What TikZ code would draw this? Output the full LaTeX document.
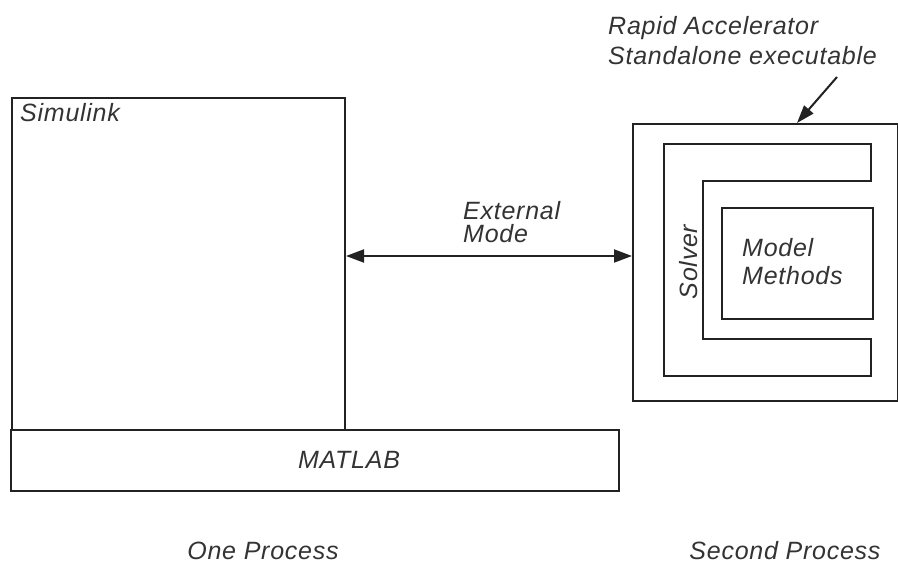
\documentclass[tikz,border=0pt]{standalone}
\usepackage{fontspec}
\setmainfont{Liberation Sans}[LetterSpace=3]
\usetikzlibrary{arrows.meta}
\definecolor{ink}{HTML}{222222}
\definecolor{txt}{HTML}{333333}
\tikzset{
  box/.style={draw=ink, line width=2pt},
  lbl/.style={inner sep=0pt, text=txt, font=\fontsize{25}{23}\selectfont\itshape, align=left},
  conn/.style={draw=ink, line width=2pt},
}
\begin{document}
\begin{tikzpicture}[x=1pt,y=-1pt]
\useasboundingbox (0,0) rectangle (898,564);
% Simulink and MATLAB
\node[box, inner sep=0pt, minimum width=333pt, minimum height=332pt, anchor=north west] (sim) at (11,97) {};
\node[box, inner sep=0pt, minimum width=608pt, minimum height=61pt, anchor=north west] (mat) at (10,429) {};
\node[lbl, anchor=base west] (simt) at (20,122) {Simulink};
\node[lbl, anchor=base] (matt) at (349,468) {MATLAB};
% Rapid accelerator box
\node[box, inner sep=0pt, minimum width=265pt, minimum height=277pt, anchor=north west] (rab) at (632,123) {};
\draw[box] (871,144) -- (664,144) -- (664,376) -- (871,376) -- (871,339) -- (703,339) -- (703,181) -- (871,181) -- cycle;
\node[box, inner sep=0pt, minimum width=151pt, minimum height=111pt, anchor=north west] (mm) at (721,207) {};
\node[lbl, anchor=base west, font=\fontsize{25}{28}\selectfont\itshape] (mmt) at (742,285) {Model\\Methods};
\node[lbl, anchor=base, rotate=90] (solver) at (697,262) {Solver};
% External mode
\draw[conn, {Triangle[length=18pt,width=13pt]}-{Triangle[length=18pt,width=13pt]}] (sim.east |- 0,256) -- (rab.west |- 0,256);
\node[lbl, anchor=base west] (ext) at (463,243) {External\\Mode};
% Rapid Accelerator label
\node[lbl, anchor=base west, font=\fontsize{25}{30}\selectfont\itshape] (ra) at (608,65) {Rapid Accelerator\\Standalone executable};
\coordinate (raf) at (837,77);
\coordinate (rat) at (797,123);
\draw[conn, -{Triangle[length=18pt,width=12pt]}] (raf) -- (rat);
% Process labels
\node[lbl, anchor=base] (one) at (263,559) {One Process};
\node[lbl, anchor=base] (two) at (785,559) {Second Process};
\end{tikzpicture}
\end{document}
